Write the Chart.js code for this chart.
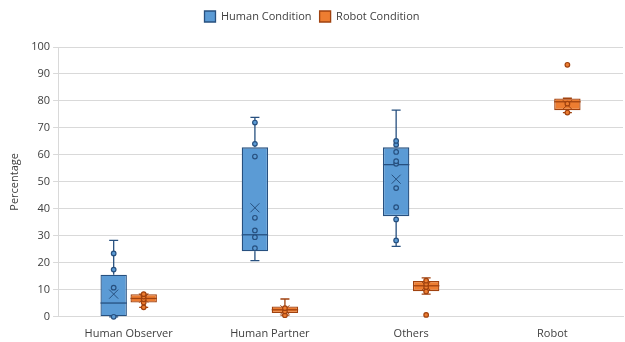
<!DOCTYPE html>
<html>
<head>
<meta charset="utf-8">
<script src="https://cdn.jsdelivr.net/npm/chart.js@4"></script>
<style>
  html, body { margin: 0; padding: 0; background: #fff; }
  #wrap { width: 625px; height: 342px; }
</style>
</head>
<body>
<div id="wrap"><canvas id="chart"></canvas></div>
<script>
// Data
const categories = ['Human Observer', 'Human Partner', 'Others', 'Robot'];

const humanMin = [0, 20.8, 26.1, null];
const humanQ1 = [0, 24.3, 37.3, null];
const humanMedian = [5.1, 30.4, 56.4, null];
const humanQ3 = [15.6, 62.8, 62.8, null];
const humanMax = [28.3, 73.9, 76.6, null];
const humanMean = [8.4, 40.4, 51.0, null];
const humanPoints = [
    [0, 10.8, 17.5, 23.5],
    [25.4, 29.5, 32.0, 36.7, 59.4, 64.1, 72.0],
    [28.3, 36.1, 40.6, 47.7, 56.7, 57.7, 61.1, 63.8, 65.2],
    []
];

const robotMin = [3.5, 0.6, 8.4, 75.7];
const robotQ1 = [5.3, 1.4, 9.5, 76.6];
const robotMedian = [6.8, 2.6, 11.5, 79.7];
const robotQ3 = [8.4, 3.8, 13.3, 80.9];
const robotMax = [8.4, 6.6, 14.4, 81.0];
const robotMean = [6.9, 2.6, 11.4, 78.6];
const robotPoints = [
    [3.5, 5.3, 6.5, 7.5, 8.4],
    [0.6, 2.0, 3.2],
    [0.7, 9.4, 11.0, 12.2, 13.4],
    [75.7, 79.0, 93.4]
];

const yTicks = [0, 10, 20, 30, 40, 50, 60, 70, 80, 90, 100];

// Colours
const COLORS = {
    human: '#5b9bd5',
    humanLine: '#27507f',
    robot: '#ed7d31',
    robotLine: '#a0420f',
    grid: '#d9d9d9',
    text: '#404040'
};

Chart.defaults.font.family = "'Open Sans', sans-serif";
Chart.defaults.color = COLORS.text;

function toBars(q1, q3) {
    return q1.map((v, i) => (v == null ? null : [v, q3[i]]));
}

// extra room between legend and plot
const legendGap = {
    id: 'legendGap',
    beforeInit(chart) {
        const fit = chart.legend.fit;
        chart.legend.fit = function () {
            fit.call(this);
            this.height += 15;
        };
    }
};

// draws whiskers, median, mean and points on top of the floating bars
const boxExtras = {
    id: 'boxExtras',
    afterDatasetsDraw(chart) {
        const ctx = chart.ctx;
        const y = chart.scales.y;
        chart.data.datasets.forEach((ds, di) => {
            const meta = chart.getDatasetMeta(di);
            const s = ds.stats;
            meta.data.forEach((bar, i) => {
                if (s.min[i] == null) return;
                const x = bar.x;
                const w = bar.width;
                ctx.save();
                ctx.strokeStyle = ds.borderColor;
                ctx.lineWidth = 1.3;

                // whiskers
                const cap = 4.5;
                ctx.beginPath();
                ctx.moveTo(x, y.getPixelForValue(s.q3[i]));
                ctx.lineTo(x, y.getPixelForValue(s.max[i]));
                ctx.moveTo(x - cap, y.getPixelForValue(s.max[i]));
                ctx.lineTo(x + cap, y.getPixelForValue(s.max[i]));
                ctx.moveTo(x, y.getPixelForValue(s.q1[i]));
                ctx.lineTo(x, y.getPixelForValue(s.min[i]));
                ctx.moveTo(x - cap, y.getPixelForValue(s.min[i]));
                ctx.lineTo(x + cap, y.getPixelForValue(s.min[i]));
                ctx.stroke();

                // median
                ctx.beginPath();
                ctx.moveTo(x - w / 2, y.getPixelForValue(s.median[i]));
                ctx.lineTo(x + w / 2, y.getPixelForValue(s.median[i]));
                ctx.stroke();

                // mean marker
                const m = y.getPixelForValue(s.mean[i]);
                const h = 4.5;
                ctx.lineWidth = 1;
                ctx.beginPath();
                ctx.moveTo(x - h, m - h);
                ctx.lineTo(x + h, m + h);
                ctx.moveTo(x + h, m - h);
                ctx.lineTo(x - h, m + h);
                ctx.stroke();

                // points
                ctx.fillStyle = ds.backgroundColor;
                ctx.lineWidth = 1.2;
                s.points[i].forEach(v => {
                    ctx.beginPath();
                    ctx.arc(x, y.getPixelForValue(v), 2.3, 0, Math.PI * 2);
                    ctx.fill();
                    ctx.stroke();
                });
                ctx.restore();
            });
        });
    }
};

new Chart(document.getElementById('chart').getContext('2d'), {
    type: 'bar',
    data: {
        labels: categories,
        datasets: [
            {
                label: 'Human Condition',
                data: toBars(humanQ1, humanQ3),
                backgroundColor: COLORS.human,
                borderColor: COLORS.humanLine,
                borderWidth: 1.3,
                borderSkipped: false,
                categoryPercentage: 0.425,
                barPercentage: 0.88,
                stats: { min: humanMin, q1: humanQ1, median: humanMedian, q3: humanQ3, max: humanMax, mean: humanMean, points: humanPoints }
            },
            {
                label: 'Robot Condition',
                data: toBars(robotQ1, robotQ3),
                backgroundColor: COLORS.robot,
                borderColor: COLORS.robotLine,
                borderWidth: 1.3,
                borderSkipped: false,
                categoryPercentage: 0.425,
                barPercentage: 0.88,
                stats: { min: robotMin, q1: robotQ1, median: robotMedian, q3: robotQ3, max: robotMax, mean: robotMean, points: robotPoints }
            }
        ]
    },
    options: {
        responsive: true,
        maintainAspectRatio: false,
        animation: false,
        layout: { padding: { top: 3, right: 2, left: 1, bottom: 0 } },
        plugins: {
            legend: {
                position: 'top',
                labels: {
                    boxWidth: 11,
                    boxHeight: 11,
                    padding: 8,
                    color: COLORS.text,
                    font: { size: 11 }
                }
            },
            tooltip: { enabled: false }
        },
        scales: {
            x: {
                grid: { display: false },
                border: { color: COLORS.grid },
                ticks: { color: COLORS.text, font: { size: 11 }, padding: 2 }
            },
            y: {
                min: 0,
                max: 100,
                afterBuildTicks: axis => { axis.ticks = yTicks.map(v => ({ value: v })); },
                grid: { color: COLORS.grid, tickLength: 5 },
                border: { color: COLORS.grid },
                ticks: { color: COLORS.text, font: { size: 11 }, padding: 3 },
                title: { display: true, text: 'Percentage', color: COLORS.text, font: { size: 11 }, padding: 7 }
            }
        }
    },
    plugins: [boxExtras, legendGap]
});
</script>
</body>
</html>
